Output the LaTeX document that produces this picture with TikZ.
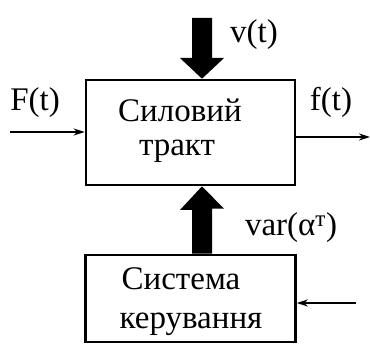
\documentclass[tikz,border=0pt]{standalone}
\usepackage{fontspec}
\setmainfont{Liberation Serif}
\usetikzlibrary{arrows.meta}
\begin{document}
\begin{tikzpicture}[x=1pt,y=-1pt,
  blockbox/.style={draw,line width=2.6pt,inner sep=0pt},
  lbl/.style={font=\fontsize{33}{33}\selectfont,inner sep=0pt,anchor=base},
  thin/.style={line width=1.8pt,-{Stealth[length=11pt,width=7pt]}}]
\useasboundingbox (0,0) rectangle (370,347);
% blocks
\node[blockbox,minimum width=209pt,minimum height=105pt] (tract) at (190.5,132.5) {};
\node[blockbox,minimum width=210pt,minimum height=87pt] (ctrl) at (190.5,298.5) {};
% block texts
\node[lbl] (t1) at (180,122) {Силовий};
\node[lbl] (t2) at (177,156) {тракт};
\node[lbl] (c1) at (181,290) {Система};
\node[lbl] (c2) at (191,329) {керування};
% signal labels
\node[lbl] (F) at (35,111) {F(t)};
\node[lbl] (f) at (331,111) {f(t)};
\node[lbl] (v) at (254,43) {v(t)};
\node[lbl] (var) at (291,236) {var(α\textsuperscript{т})};
% thin signal lines
\coordinate (Fin) at (10,132);
\coordinate (fout) at (370,137);
\coordinate (uin) at (356,303);
\draw[thin] (Fin) -- (Fin -| tract.west);
\draw[thin] (fout -| tract.east) -- (fout);
\draw[thin] (uin) -- (uin -| ctrl.east);
% thick arrows
\coordinate (vtop) at (202,18);
\fill (vtop) ++(-10,0) -- ++(20,0) -- ++(0,40) -- ++(12,0) -- (tract.north -| vtop) -- (180,58) -- (192,58) -- cycle;
\fill (ctrl.north -| vtop) ++(-10,0) -- ++(20,0) -- ++(0,-45) -- ++(12,0) -- (tract.south -| vtop) -- (180,210) -- (192,210) -- cycle;
\end{tikzpicture}
\end{document}
